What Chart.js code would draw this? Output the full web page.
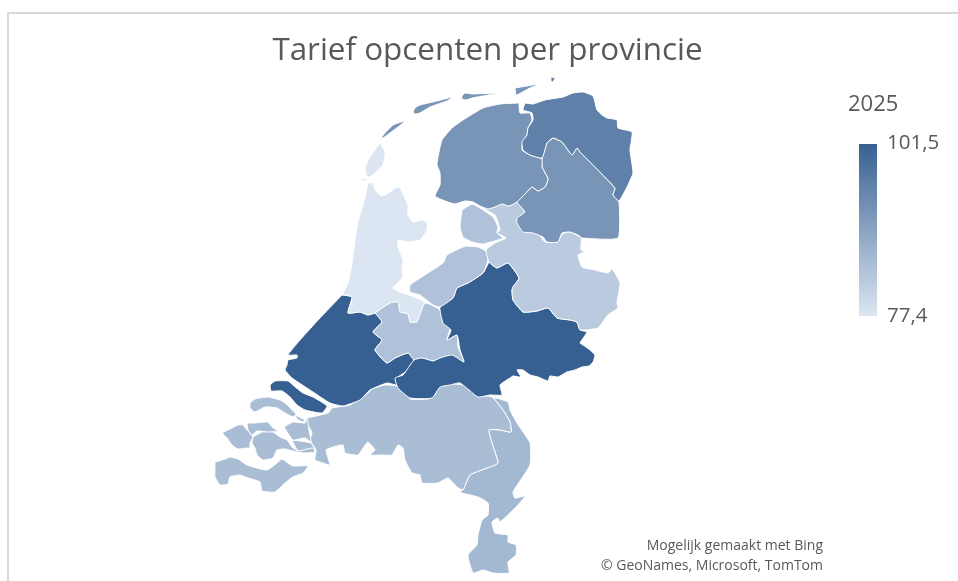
<!DOCTYPE html>
<html>
<head>
<meta charset="utf-8">
<title>Tarief opcenten per provincie</title>
<script src="https://cdn.jsdelivr.net/npm/chart.js@4/dist/chart.umd.js"></script>
<style>
    body { margin: 0; background: #fff; }
    canvas { display: block; }
</style>
</head>
<body>
<canvas id="myChart" width="958" height="581"></canvas>
<script>
const chartTitle = 'Tarief opcenten per provincie';
const legendTitle = '2025';
const legendLabels = ['101,5', '77,4'];
const creditLines = ['Mogelijk gemaakt met Bing', '© GeoNames, Microsoft, TomTom'];

// tarief per provincie
const provinces = ['Groningen', 'Friesland', 'Drenthe', 'Overijssel', 'Flevoland', 'Gelderland', 'Utrecht', 'Noord-Holland', 'Zuid-Holland', 'Zeeland', 'Noord-Brabant', 'Limburg'];
const tarief = [95.7, 92.0, 92.0, 82.2, 83.8, 101.5, 83.8, 77.4, 101.5, 84.8, 84.8, 85.7];
const scaleMin = 77.4;
const scaleMax = 101.5;

// province outlines, one list per piece of land
const groningen = [
    [[525,103],[533,104],[545,100],[563,97],[573,93],[583,92],[593,96],[597,110],[602,115],[607,118],[617,120],[618,128],[632,132],[630,150],[633,173],[627,187],[619,201],[613,195],[615,188],[580,152],[577,148],[572,155],[562,142],[553,138],[547,143],[542,158],[530,155],[523,150],[522,142],[527,135],[528,128],[533,120],[532,113],[523,110]],
    [[551,77],[555,78],[553,82],[551,81]]
];
const friesland = [
    [[519,103],[520,113],[530,113],[532,120],[528,128],[527,135],[523,142],[522,150],[530,155],[542,159],[542,167],[548,179],[545,187],[538,191],[532,187],[525,194],[517,202],[509,206],[502,204],[495,207],[488,209],[480,206],[473,202],[465,201],[455,204],[445,201],[435,196],[440,185],[440,173],[437,165],[438,157],[442,140],[452,128],[463,120],[483,108],[500,104]],
    [[381,138],[385,133],[393,125],[405,121],[398,127],[390,133],[383,138]],
    [[413,112],[415,108],[420,105],[433,102],[453,97],[447,101],[430,107],[420,113],[415,114]],
    [[462,96],[465,93],[472,94],[498,93],[483,96],[472,98],[466,100],[462,99]],
    [[515,88],[540,84],[530,88],[519,94],[516,95]]
];
const drenthe = [
    [[553,138],[562,142],[572,155],[577,148],[580,152],[615,188],[613,195],[619,202],[618,238],[582,238],[578,235],[570,232],[562,233],[558,242],[547,242],[543,237],[533,233],[523,232],[517,223],[517,218],[525,212],[517,202],[525,194],[532,187],[538,191],[545,187],[548,179],[542,167],[542,159],[547,143]]
];
const overijssel = [
    [[517,202],[525,212],[517,220],[522,230],[538,233],[545,242],[558,242],[562,234],[570,232],[581,238],[581,250],[585,252],[578,255],[582,267],[595,270],[608,273],[612,269],[620,283],[617,303],[618,308],[608,315],[598,328],[580,330],[577,322],[570,320],[557,318],[548,308],[537,311],[523,312],[513,300],[512,290],[513,287],[519,278],[508,263],[497,268],[489,262],[486,250],[495,243],[506,238],[497,233],[500,230],[495,215],[482,208],[488,209],[495,207],[502,204],[509,206]]
];
const flevoland = [
    [[462,210],[472,204],[480,208],[493,217],[498,227],[497,233],[503,238],[483,244],[472,242],[463,237],[460,227]],
    [[465,246],[478,247],[487,252],[488,260],[483,273],[468,283],[457,288],[453,298],[440,307],[433,305],[420,295],[410,292],[410,285],[443,263],[447,255]]
];
const gelderland = [
    [[489,262],[497,268],[508,263],[519,278],[513,287],[512,290],[513,300],[523,312],[537,311],[548,308],[557,318],[570,320],[577,322],[580,330],[587,332],[580,343],[583,345],[590,350],[595,355],[593,362],[589,366],[582,367],[575,370],[567,372],[558,377],[550,376],[548,381],[538,377],[530,375],[523,370],[517,370],[521,377],[513,376],[510,378],[500,385],[502,395],[490,395],[478,397],[460,383],[450,385],[440,387],[432,398],[410,398],[398,388],[395,378],[403,375],[414,360],[422,358],[433,361],[440,358],[452,355],[464,362],[460,350],[457,335],[447,340],[451,330],[443,323],[440,307],[453,298],[457,288],[468,283],[483,273]]
];
const utrecht = [
    [[375,313],[390,303],[398,302],[400,312],[408,314],[410,322],[417,322],[425,303],[440,310],[443,323],[450,328],[447,340],[457,335],[458,347],[464,362],[448,357],[433,361],[422,358],[414,360],[408,353],[395,358],[387,363],[375,350],[382,340],[373,332],[382,322]]
];
const noordHolland = [
    [[368,183],[373,183],[375,190],[382,196],[390,192],[397,187],[400,188],[408,205],[408,215],[413,222],[422,220],[427,223],[427,230],[420,240],[408,242],[398,240],[398,247],[403,260],[402,270],[403,277],[393,288],[400,292],[412,296],[425,303],[417,322],[410,322],[408,314],[400,312],[398,302],[390,303],[375,313],[368,315],[360,312],[348,313],[352,297],[343,294],[348,283],[352,263],[355,240],[358,222],[365,197]],
    [[380,143],[385,152],[383,165],[375,173],[370,177],[367,176],[365,168],[370,157]],
    [[359,180],[367,178],[366,181]]
];
const zuidHolland = [
    [[342,295],[352,297],[348,313],[360,312],[368,315],[375,313],[382,322],[373,332],[382,340],[375,350],[387,363],[395,358],[408,353],[414,360],[408,370],[397,378],[397,385],[387,383],[370,390],[360,400],[343,406],[330,403],[313,392],[292,378],[285,370],[287,365],[288,360],[297,358],[297,355],[288,355],[300,340],[320,318]],
    [[270,385],[275,381],[288,381],[294,386],[303,393],[313,397],[327,406],[322,413],[305,410],[297,405],[290,397],[282,391],[271,391]]
];
const zeeland = [
    [[250,403],[255,399],[268,397],[280,400],[285,403],[296,414],[293,417],[285,413],[277,408],[265,407],[255,412],[250,408]],
    [[247,423],[255,423],[268,422],[272,427],[278,431],[268,432],[257,431],[252,435],[248,430]],
    [[284,427],[293,422],[305,423],[307,418],[309,430],[311,442],[305,438],[293,440]],
    [[295,415],[305,420],[303,422],[297,419]],
    [[222,433],[228,430],[238,425],[243,425],[247,430],[253,437],[250,443],[250,448],[247,448],[238,449],[232,445],[227,438]],
    [[253,437],[262,432],[273,432],[280,437],[287,440],[292,447],[298,451],[313,448],[315,452],[305,453],[297,452],[285,449],[277,450],[273,458],[263,460],[257,455],[255,448],[252,443]],
    [[292,440],[311,443],[315,450],[298,451]],
    [[215,462],[225,459],[230,457],[238,459],[247,465],[257,468],[267,470],[277,463],[282,459],[288,463],[293,466],[308,466],[303,473],[293,477],[285,483],[275,492],[262,491],[260,482],[248,478],[240,475],[230,477],[228,484],[220,485],[215,477],[215,467]]
];
const noordBrabant = [
    [[307,418],[328,413],[332,408],[350,405],[368,393],[372,389],[385,385],[397,386],[410,393],[410,399],[428,399],[435,395],[438,387],[450,384],[463,385],[478,395],[492,397],[503,410],[510,422],[511,432],[500,430],[489,430],[492,443],[498,463],[490,467],[470,475],[463,490],[457,487],[448,478],[438,483],[422,483],[420,475],[412,473],[405,460],[403,448],[398,445],[392,455],[383,455],[370,455],[375,450],[368,442],[363,448],[358,455],[345,453],[343,445],[333,447],[326,450],[330,465],[323,463],[315,460],[316,450],[310,440],[312,433],[307,423]]
];
const limburg = [
    [[493,397],[508,402],[510,410],[517,423],[530,443],[530,465],[513,492],[515,498],[525,496],[518,505],[500,522],[498,518],[492,522],[495,533],[508,535],[508,542],[516,545],[516,555],[508,562],[509,573],[493,573],[483,570],[473,573],[468,555],[477,545],[478,535],[482,520],[488,515],[488,503],[478,497],[462,493],[460,491],[463,490],[470,475],[490,467],[498,463],[492,443],[489,430],[500,430],[511,432],[510,422],[503,410]]
];
const outlines = [groningen, friesland, drenthe, overijssel, flevoland, gelderland, utrecht, noordHolland, zuidHolland, zeeland, noordBrabant, limburg];

const lightColor = [220, 230, 242];
const darkColor = [55, 96, 146];

function colorFor(value) {
    const t = (value - scaleMin) / (scaleMax - scaleMin);
    const c = lightColor.map((l, i) => Math.round(l + (darkColor[i] - l) * t));
    return `rgb(${c[0]}, ${c[1]}, ${c[2]})`;
}

const datasets = [];
outlines.forEach((pieces, index) => {
    pieces.forEach(piece => {
        const points = piece.concat([piece[0]]).map(p => ({ x: p[0], y: p[1] }));
        datasets.push({
            label: provinces[index],
            data: points,
            showLine: true,
            fill: 'shape',
            backgroundColor: colorFor(tarief[index]),
            borderColor: '#ffffff',
            borderWidth: 1,
            pointRadius: 0,
            tension: 0.15
        });
    });
});

const framePlugin = {
    id: 'frame',
    beforeDraw(chart) {
        const ctx = chart.ctx;
        ctx.save();
        ctx.fillStyle = '#d9d9d9';
        ctx.fillRect(8, 12, 950, 2);
        ctx.fillRect(7, 12, 2, 569);
        ctx.restore();
    }
};

const legendPlugin = {
    id: 'colorLegend',
    afterDraw(chart) {
        const ctx = chart.ctx;
        ctx.save();
        const gradient = ctx.createLinearGradient(0, 144, 0, 316);
        gradient.addColorStop(0, colorFor(scaleMax));
        gradient.addColorStop(1, colorFor(scaleMin));
        ctx.fillStyle = gradient;
        ctx.fillRect(859, 144, 18, 172);

        ctx.fillStyle = '#595959';
        ctx.textBaseline = 'middle';
        ctx.font = '22px "Open Sans"';
        ctx.fillText(legendTitle, 848, 105);
        ctx.font = '20.5px "Open Sans"';
        ctx.fillText(legendLabels[0], 887, 143);
        ctx.fillText(legendLabels[1], 887, 316);

        ctx.font = '14px "Open Sans"';
        ctx.textAlign = 'right';
        ctx.fillText(creditLines[0], 823, 546);
        ctx.fillText(creditLines[1], 823, 566);
        ctx.restore();
    }
};

new Chart(document.getElementById('myChart'), {
    type: 'scatter',
    data: { datasets },
    options: {
        responsive: false,
        animation: false,
        layout: { padding: { left: 17 } },
        scales: {
            x: { type: 'linear', min: 17, max: 958, display: false },
            y: { type: 'linear', min: 70, max: 581, reverse: true, display: false }
        },
        plugins: {
            legend: { display: false },
            tooltip: { enabled: false },
            title: {
                display: true,
                text: chartTitle,
                fullSize: false,
                color: '#595959',
                font: { family: '"Open Sans"', size: 31.4, weight: 'normal', lineHeight: 1.2 },
                padding: { top: 32, bottom: 0.3 }
            }
        }
    },
    plugins: [framePlugin, legendPlugin]
});
</script>
</body>
</html>
